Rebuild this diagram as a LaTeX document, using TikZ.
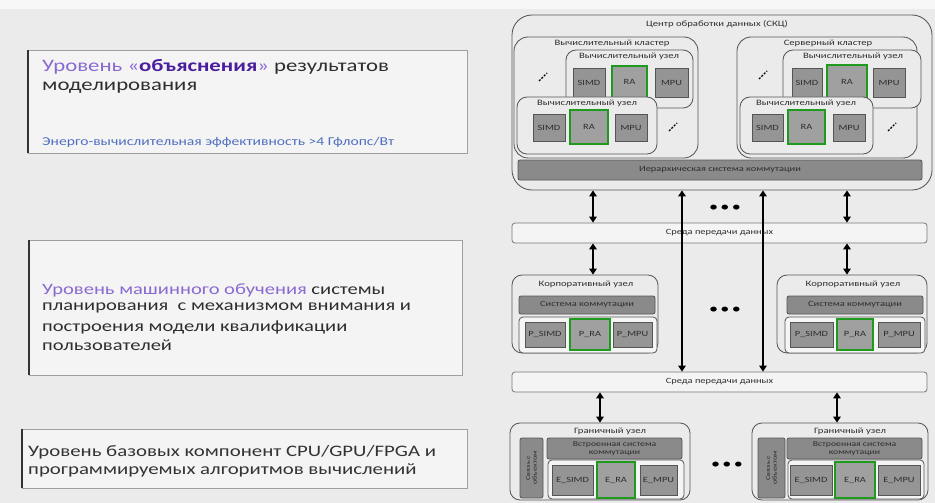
\documentclass[tikz,border=0pt]{standalone}
\usepackage{fontspec}
\setmainfont{Carlito}[FakeStretch=1.3]
\usetikzlibrary{arrows.meta}
\definecolor{bgc}{HTML}{EBEBEB}
\definecolor{panelc}{HTML}{F4F4F4}
\definecolor{edgec}{HTML}{555555}
\definecolor{compc}{HTML}{959595}
\definecolor{barc}{HTML}{8A8A8A}
\definecolor{rac}{HTML}{1E9B1E}
\definecolor{purl}{HTML}{8A6AD2}
\definecolor{purd}{HTML}{4A1E9E}
\definecolor{bluet}{HTML}{4F6FBF}
\definecolor{txt}{HTML}{2E2E2E}
\tikzset{
  boxframe/.style={draw=edgec, line width=0.85pt, fill=bgc, rounded corners=#1, inner sep=0pt},
  boxframe/.default=8pt,
  comp/.style={draw=edgec, line width=0.8pt, fill=compc, inner sep=0pt, font=\fontsize{8}{8.5}\selectfont, text=txt},
  racomp/.style={comp, draw=rac, line width=2.6pt, fill=compc!90!white},
  darkbar/.style={draw=edgec, line width=0.8pt, fill=barc, inner sep=0pt, rounded corners=2pt, font=\fontsize{8}{8.5}\selectfont, text=txt},
  bus/.style={draw=edgec!80, line width=0.8pt, fill=panelc, rounded corners=3pt, inner sep=0pt, font=\fontsize{8}{8.5}\selectfont, text=txt},
  innerbox/.style={draw=edgec, line width=0.8pt, fill=white!92!gray, rounded corners=4pt, inner sep=0pt},
  lbl/.style={inner sep=0pt, font=\fontsize{8.2}{8.5}\selectfont, text=txt},
  dbl/.style={{Triangle[length=6pt,width=7.5pt]}-{Triangle[length=6pt,width=7.5pt]}, line width=1.8pt, black},
  panel/.style={draw=gray!75, line width=0.8pt, fill=panelc, inner sep=0pt},
  ptext/.style={anchor=west, inner sep=0pt, text=txt},
  dotsdiag/.style={line width=1.4pt, dash pattern=on 2pt off 1.5pt, black},
  dotrow/.style={inner sep=0pt, font=\fontsize{14}{14}\selectfont}
}
\begin{document}
\begin{tikzpicture}[x=1pt,y=-1pt]
\fill[bgc] (0,0) rectangle (935,503);
\fill[white!60!bgc] (0,0) rectangle (935,9);
\useasboundingbox (0,0) rectangle (935,503);

% ---------- left panels ----------
\node[panel, minimum width=439pt, minimum height=103pt] (p1) at (247.5,101.5) {};
\draw[line width=2pt, gray!40!black] (p1.north west) -- (p1.south west);
\node[ptext, font=\fontsize{17.5}{20}\selectfont] (p1a) at (42,67) {\textcolor{purl}{Уровень «}\textcolor{purd}{\textbf{объяснения}}\textcolor{purl}{»} результатов};
\node[ptext, font=\fontsize{17.5}{20}\selectfont] (p1b) at (42,88) {моделирования};
\node[ptext, font=\fontsize{12}{14}\selectfont, text=bluet] (p1c) at (42,142) {Энерго-вычислительная эффективность >4 Гфлопс/Вт};

\node[panel, minimum width=433pt, minimum height=135pt] (p2) at (245.5,307.5) {};
\draw[line width=2pt, gray!40!black] (p2.north west) -- (p2.south west);
\node[ptext, font=\fontsize{15.8}{18}\selectfont] (p2a) at (42,290) {\textcolor{purl}{Уровень машинного обучения} системы};
\node[ptext, font=\fontsize{15.8}{18}\selectfont] (p2b) at (42,308) {планирования~ с механизмом внимания и};
\node[ptext, font=\fontsize{15.8}{18}\selectfont] (p2c) at (42,327) {построения модели квалификации};
\node[ptext, font=\fontsize{15.8}{18}\selectfont] (p2d) at (42,345) {пользователей};

\node[panel, minimum width=445pt, minimum height=59pt] (p3) at (244.5,458.5) {};
\draw[line width=2pt, gray!40!black] (p3.north west) -- (p3.south west);
\node[ptext, font=\fontsize{16}{18}\selectfont, text=black!80] (p3a) at (28,452) {Уровень базовых компонент CPU/GPU/FPGA и};
\node[ptext, font=\fontsize{16}{18}\selectfont, text=black!80] (p3b) at (28,470) {программируемых алгоритмов вычислений};

% ---------- data center ----------
\node[boxframe=20pt, minimum width=420pt, minimum height=175pt] (skc) at (722,102.5) {};
\node[lbl] (skct) at (717,24) {Центр обработки данных (СКЦ)};

% left cluster
\node[boxframe=14pt, minimum width=184pt, minimum height=121pt] (clL) at (606,97.5) {};
\node[lbl] (clLt) at (612,43) {Вычислительный кластер};
\node[boxframe=10pt, minimum width=127pt, minimum height=58pt] (nLu) at (629.5,79) {};
\node[lbl] (nLut) at (629,56) {Вычислительный узел};
\node[comp, minimum width=32pt, minimum height=29pt] (sLu) at (589,82.5) {SIMD};
\node[racomp, minimum width=35pt, minimum height=32pt] (rLu) at (629.5,82) {RA};
\node[comp, minimum width=33pt, minimum height=29pt] (mLu) at (671.5,82.5) {MPU};
\node[boxframe=10pt, minimum width=140pt, minimum height=57pt] (nLd) at (587,125.5) {};
\node[lbl] (nLdt) at (587,103) {Вычислительный узел};
\node[comp, minimum width=32pt, minimum height=27pt] (sLd) at (549,127.5) {SIMD};
\node[racomp, minimum width=38pt, minimum height=34pt] (rLd) at (589,127) {RA};
\node[comp, minimum width=32pt, minimum height=27pt] (mLd) at (631,127.5) {MPU};
\coordinate (dL1a) at (539,81); \coordinate (dL1b) at (547,73);
\draw[dotsdiag] (dL1a) -- (dL1b);
\coordinate (dL2a) at (669,131); \coordinate (dL2b) at (677,123);
\draw[dotsdiag] (dL2a) -- (dL2b);

% right cluster
\node[boxframe=14pt, minimum width=180pt, minimum height=121pt] (clR) at (827,97.5) {};
\node[lbl] (clRt) at (828,43) {Серверный кластер};
\node[boxframe=10pt, minimum width=138pt, minimum height=58pt] (nRu) at (852,79) {};
\node[lbl] (nRut) at (853,56) {Вычислительный узел};
\node[comp, minimum width=30pt, minimum height=29pt] (sRu) at (807,82.5) {SIMD};
\node[racomp, minimum width=40pt, minimum height=33pt] (rRu) at (847,81.5) {RA};
\node[comp, minimum width=32pt, minimum height=29pt] (mRu) at (889,82.5) {MPU};
\node[boxframe=10pt, minimum width=133pt, minimum height=57pt] (nRd) at (806.5,125.5) {};
\node[lbl] (nRdt) at (806,103) {Вычислительный узел};
\node[comp, minimum width=31pt, minimum height=27pt] (sRd) at (767.5,127.5) {SIMD};
\node[racomp, minimum width=37pt, minimum height=34pt] (rRd) at (806.5,127) {RA};
\node[comp, minimum width=32pt, minimum height=27pt] (mRd) at (849,127.5) {MPU};
\coordinate (dR1a) at (759,79); \coordinate (dR1b) at (767,71);
\draw[dotsdiag] (dR1a) -- (dR1b);
\coordinate (dR2a) at (888,131); \coordinate (dR2b) at (896,123);
\draw[dotsdiag] (dR2a) -- (dR2b);

\node[darkbar, minimum width=404pt, minimum height=20pt] (hier) at (720,170) {Иерархическая система коммутации};

% ---------- buses ----------
\node[bus, minimum width=415pt, minimum height=20pt] (bus1) at (719.5,233) {Среда передачи данных};
\node[bus, minimum width=415pt, minimum height=20pt] (bus2) at (719.5,382) {Среда передачи данных};

% ---------- corporate nodes ----------
\node[boxframe=10pt, minimum width=146pt, minimum height=78pt] (corL) at (585,314) {};
\node[lbl] (corLt) at (586,284) {Корпоративный узел};
\node[darkbar, minimum width=136pt, minimum height=18pt] (swL) at (587,305) {Система коммутации};
\node[innerbox, minimum width=138pt, minimum height=36pt] (inL) at (588,335) {};
\node[comp, minimum width=40pt, minimum height=25pt] (psL) at (545,334.5) {P\_SIMD};
\node[racomp, minimum width=40pt, minimum height=31pt] (prL) at (590,334.5) {P\_RA};
\node[comp, minimum width=39pt, minimum height=25pt] (pmL) at (632.5,334.5) {P\_MPU};

\node[boxframe=10pt, minimum width=150pt, minimum height=78pt] (corR) at (852,314) {};
\node[lbl] (corRt) at (853,284) {Корпоративный узел};
\node[darkbar, minimum width=136pt, minimum height=18pt] (swR) at (855,305) {Система коммутации};
\node[innerbox, minimum width=140pt, minimum height=36pt] (inR) at (855,335) {};
\node[comp, minimum width=43pt, minimum height=25pt] (psR) at (811.5,334.5) {P\_SIMD};
\node[racomp, minimum width=36pt, minimum height=31pt] (prR) at (855,334.5) {P\_RA};
\node[comp, minimum width=42pt, minimum height=25pt] (pmR) at (899,334.5) {P\_MPU};

% ---------- edge nodes ----------
\node[boxframe=10pt, minimum width=180pt, minimum height=77pt] (edL) at (600,461.5) {};
\node[lbl] (edLt) at (610,431) {Граничный узел};
\node[darkbar, minimum width=23pt, minimum height=60pt] (vL) at (531.5,468) {};
\node[lbl, rotate=90, align=center, font=\fontsize{6.3}{6.8}\selectfont] (vLt) at (vL.center) {Связь с\\объектом};
\node[darkbar, minimum width=135pt, minimum height=21pt, align=center, font=\fontsize{7.5}{8}\selectfont] (ebL) at (614.5,448.5) {Встроенная система\\коммутации};
\node[innerbox, minimum width=136pt, minimum height=39pt] (einL) at (616,479.5) {};
\node[comp, minimum width=41pt, minimum height=30pt] (esL) at (572.5,480) {E\_SIMD};
\node[racomp, minimum width=38pt, minimum height=36pt] (erL) at (616,480) {E\_RA};
\node[comp, minimum width=37pt, minimum height=30pt] (emL) at (658.5,480) {E\_MPU};

\node[boxframe=10pt, minimum width=176pt, minimum height=77pt] (edR) at (840,461.5) {};
\node[lbl] (edRt) at (850,431) {Граничный узел};
\node[darkbar, minimum width=27pt, minimum height=60pt] (vR) at (771.5,468) {};
\node[lbl, rotate=90, align=center, font=\fontsize{6.3}{6.8}\selectfont] (vRt) at (vR.center) {Связь с\\объектом};
\node[darkbar, minimum width=135pt, minimum height=21pt, align=center, font=\fontsize{7.5}{8}\selectfont] (ebR) at (854.5,448.5) {Встроенная система\\коммутации};
\node[innerbox, minimum width=136pt, minimum height=39pt] (einR) at (856,479.5) {};
\node[comp, minimum width=42pt, minimum height=30pt] (esR) at (811,480) {E\_SIMD};
\node[racomp, minimum width=40pt, minimum height=36pt] (erR) at (855,480) {E\_RA};
\node[comp, minimum width=42pt, minimum height=30pt] (emR) at (899,480) {E\_MPU};

% ---------- arrows ----------
\coordinate (xa) at (593,0);
\coordinate (xb) at (682,0);
\coordinate (xc) at (763,0);
\coordinate (xd) at (847,0);
\coordinate (xe) at (600,0);
\coordinate (xf) at (837,0);
\draw[dbl] (skc.south -| xa) -- (bus1.north -| xa);
\draw[dbl] (skc.south -| xd) -- (bus1.north -| xd);
\draw[dbl] (bus1.south -| xa) -- (corL.north -| xa);
\draw[dbl] (bus1.south -| xd) -- (corR.north -| xd);
\draw[dbl] (skc.south -| xb) -- (bus2.north -| xb);
\draw[dbl] (skc.south -| xc) -- (bus2.north -| xc);
\draw[dbl] (bus2.south -| xe) -- (edL.north -| xe);
\draw[dbl] (bus2.south -| xf) -- (edR.north -| xf);

% ---------- ellipses ----------
\node[dotrow] (dots1) at (725,208) {•\,•\,•};
\node[dotrow] (dots2) at (725,310) {•\,•\,•};
\node[dotrow] (dots3) at (727,465) {•\,•\,•};
\end{tikzpicture}
\end{document}
